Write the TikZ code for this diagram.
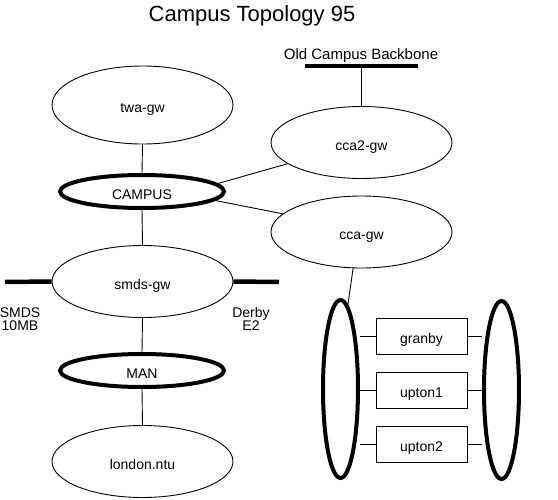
\documentclass[tikz,border=0pt]{standalone}
\usepackage{fontspec}
\setmainfont{Liberation Sans}
\usetikzlibrary{shapes.geometric}
\begin{document}
\begin{tikzpicture}[x=1pt,y=-1pt,
  lbl/.style={font=\fontsize{14}{14}\selectfont,text height=15pt,text depth=0pt},
  gw/.style={lbl,ellipse,draw,line width=0.9pt,minimum width=181pt,minimum height=72pt,inner sep=0pt},
  net/.style={lbl,ellipse,draw,line width=4pt,minimum width=164pt,minimum height=33pt,inner sep=0pt},
  ring/.style={ellipse,draw,line width=4pt,minimum width=35pt,minimum height=178pt,inner sep=0pt},
  host/.style={lbl,rectangle,draw,line width=0.9pt,minimum width=91pt,minimum height=36pt,inner sep=0pt},
  bar/.style={line width=4.5pt},
  link/.style={line width=0.9pt}]
\useasboundingbox (0,0) rectangle (558,499);
\node[font=\fontsize{22}{24}\selectfont,anchor=base] (title) at (252,21) {Campus Topology 95};
\node[font=\fontsize{15}{16}\selectfont,anchor=base] (obbl) at (361,59) {Old Campus Backbone};
\coordinate (obbL) at (305,66);
\coordinate (obbR) at (418,66);
\draw[bar] (obbL) -- (obbR);
\coordinate (obbM) at (361.5,66);
\node[gw,minimum height=78pt] (twa) at (142.5,105) {twa-gw};
\node[gw] (cca2) at (361.5,142.5) {cca2-gw};
\node[net] (campus) at (142,191.5) {CAMPUS};
\node[gw] (cca) at (361.5,232) {cca-gw};
\node[gw] (smds) at (142.5,281.5) {smds-gw};
\node[net] (man) at (142,370.5) {MAN};
\node[gw] (london) at (142.5,461.5) {london.ntu};
\coordinate (smdsL) at (5,282);
\coordinate (derbyR) at (279,282);
\draw[bar] (smdsL) -- (smds.west);
\draw[bar] (smds.east) -- (derbyR);
\node[align=center,font=\fontsize{14}{13.5}\selectfont] (smdsl) at (20,319) {SMDS\\10MB};
\node[align=center,font=\fontsize{14}{13.5}\selectfont] (derbyl) at (251,319) {Derby\\E2};
\node[ring] (ringL) at (340.5,389) {};
\node[ring] (ringR) at (501.5,390) {};
\node[host] (granby) at (421.5,336) {granby};
\node[host] (upton1) at (421.5,390) {upton1};
\node[host] (upton2) at (421.5,444) {upton2};
\draw[link] (obbM) -- (cca2.north);
\draw[link] (twa.south) -- (campus.north);
\draw[link] (campus.6) -- (cca2.196);
\draw[link] (campus.-7) -- (cca.167);
\draw[link] (campus.south) -- (smds.north);
\draw[link] (smds.south) -- (man.north);
\draw[link] (man.south) -- (london.north);
\draw[link] (cca.257) -- (ringL.85);
\foreach \h in {granby,upton1,upton2}{
  \draw[link] (\h.west) -- (\h.west -| ringL.east);
  \draw[link] (\h.east) -- (\h.east -| ringR.west);
}
\end{tikzpicture}
\end{document}
